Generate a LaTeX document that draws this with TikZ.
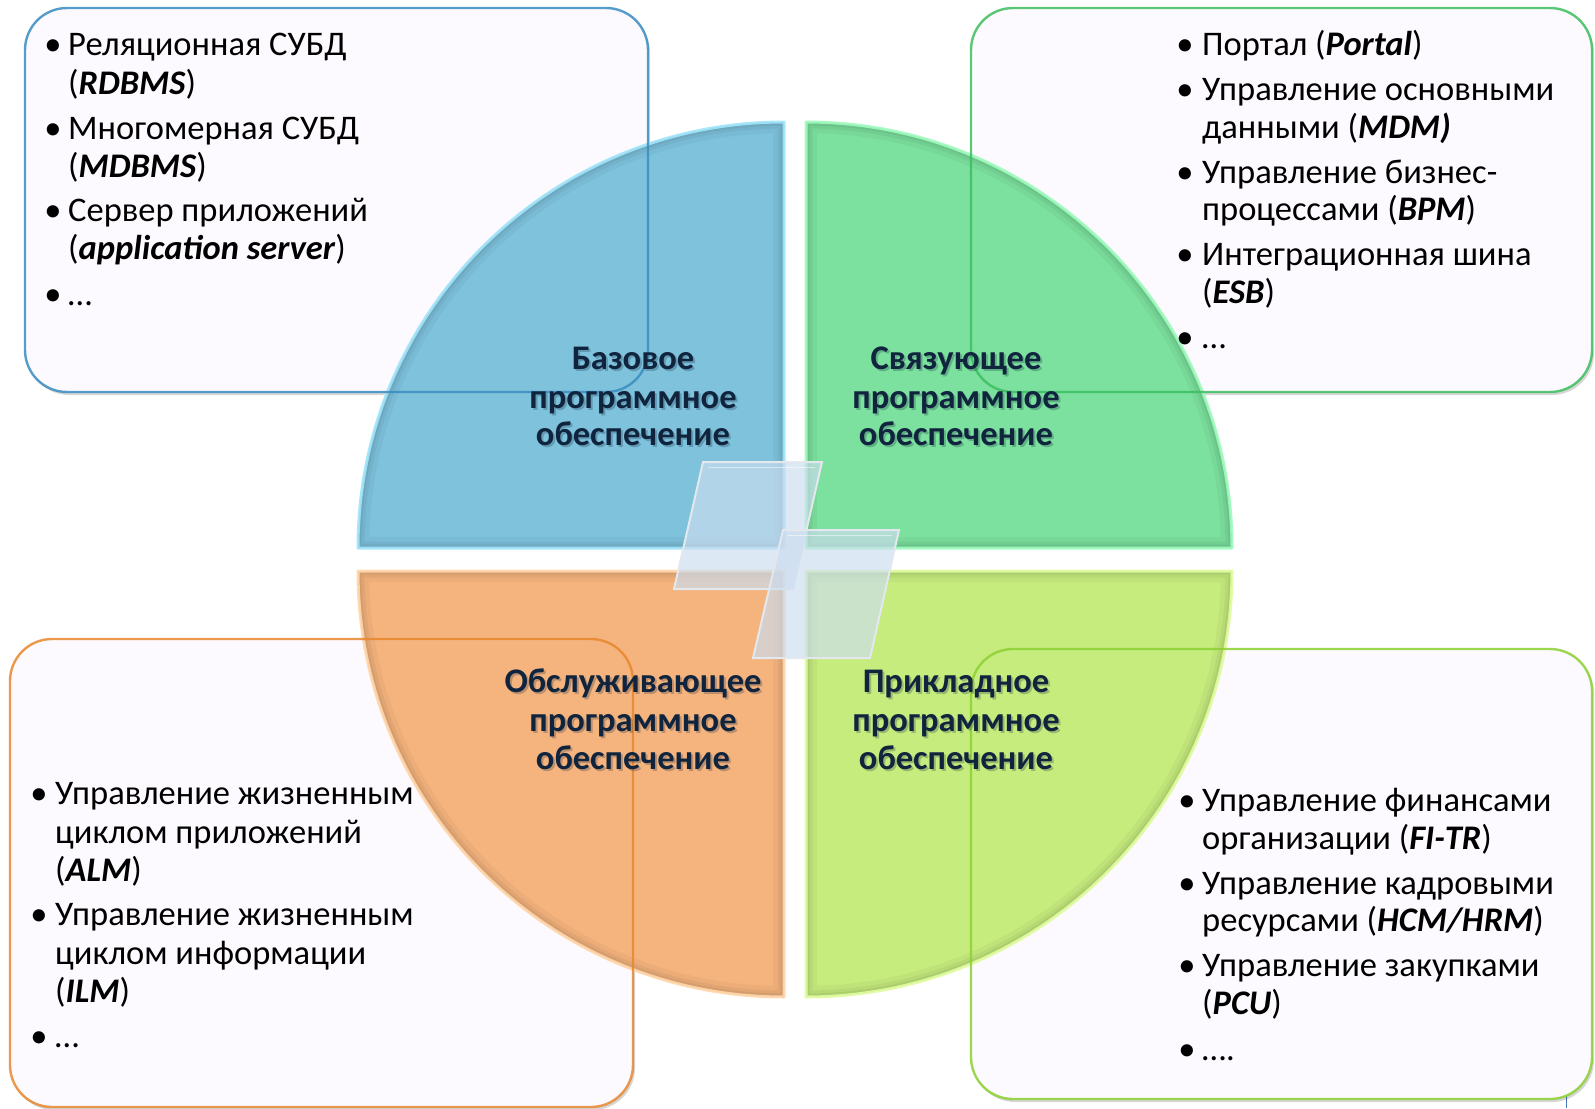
\documentclass[tikz,border=0pt]{standalone}
\usepackage{fontspec}
\setmainfont{Carlito}
\newcommand\termbi[1]{\textbf{\textit{#1}}}
\definecolor{boxfill}{RGB}{252,250,254}
\definecolor{qblue}{RGB}{126,194,220}
\definecolor{qgreen}{RGB}{124,224,158}
\definecolor{qorange}{RGB}{245,180,126}
\definecolor{qlime}{RGB}{198,236,126}
\definecolor{rblue}{RGB}{160,228,250}
\definecolor{rgreen}{RGB}{160,250,190}
\definecolor{rorange}{RGB}{255,214,170}
\definecolor{rlime}{RGB}{225,252,160}
\definecolor{bblue}{RGB}{58,140,192}
\definecolor{bgreen}{RGB}{60,190,95}
\definecolor{borange}{RGB}{232,135,45}
\definecolor{blime}{RGB}{140,208,50}
\definecolor{labc}{RGB}{16,36,62}
\definecolor{glass}{RGB}{204,221,239}
\definecolor{glassedge}{RGB}{226,232,238}
\begin{document}
\begin{tikzpicture}[x=1pt,y=-1pt,
  every node/.style={inner sep=0pt},
  txt/.style={anchor=base west, font=\fontsize{34.5}{38}\selectfont, text=black},
  bul/.style={anchor=base, font=\fontsize{34.5}{38}\selectfont, text=black},
  lab/.style={anchor=base, font=\fontsize{34.5}{38}\selectfont\bfseries, text=labc},
  labshade/.style={anchor=base, font=\fontsize{34.5}{38}\selectfont\bfseries, text=labc, opacity=0.25},
  infobox/.style={rounded corners=42, fill=boxfill},
  boxshade/.style={rounded corners=42, fill=black, opacity=0.16},
  boxline/.style={rounded corners=42, line width=2.4, draw=#1, opacity=0.85},
  glasspane/.style={fill=glass, fill opacity=0.68, draw=glassedge, line width=2}
]
\useasboundingbox (0,0) rectangle (1595,1108);

% small stray marker line at the lower right
\draw[line width=1.4, draw={rgb,255:red,215;green,224;blue,238}] (1566.5,1068) -- (1566.5,1096);
\draw[line width=1.6, draw={rgb,255:red,70;green,120;blue,190}] (1566.5,1096) -- (1566.5,1108);

% ---------- info boxes: shadows and fills ----------
\fill[boxshade] (27,11) rectangle (650,395);
\fill[boxshade] (973,11) rectangle (1594,395);
\fill[boxshade] (12,642) rectangle (635,1110);
\fill[boxshade] (973,652) rectangle (1594,1102);
\fill[infobox] (25,8) rectangle (648,392);
\fill[infobox] (971,8) rectangle (1592,392);
\fill[infobox] (10,639) rectangle (633,1107);
\fill[infobox] (971,649) rectangle (1592,1099);

% ---------- the four quadrants ----------
\def\qA{(784,548) -- ++(-426,0) arc[start angle=180, end angle=270, radius=426] -- cycle}
\def\qB{(806,548) -- ++(0,-426) arc[start angle=270, end angle=360, radius=426] -- cycle}
\def\qC{(784,571) -- ++(-426,0) arc[start angle=180, end angle=90, radius=426] -- cycle}
\def\qD{(806,571) -- ++(426,0) arc[start angle=0, end angle=90, radius=426] -- cycle}

\foreach \q/\c/\r in {\qA/qblue/rblue, \qB/qgreen/rgreen, \qC/qorange/rorange, \qD/qlime/rlime}{
  \fill[\c] \q;
  \begin{scope}
    \clip \q;
    \draw[black, opacity=0.035, line width=22, line join=round] \q;
    \draw[black, opacity=0.045, line width=13, line join=round] \q;
    \draw[black, opacity=0.05, line width=7, line join=round] \q;
  \end{scope}
  \draw[\r, line width=3, opacity=0.9, line join=round] \q;
}

% ---------- box outlines ----------
\draw[boxline=bblue] (25,8) rectangle (648,392);
\draw[boxline=bgreen] (971,8) rectangle (1592,392);
\draw[boxline=borange] (10,639) rectangle (633,1107);
\draw[boxline=blime] (971,649) rectangle (1592,1099);

% ---------- glass panes in the middle ----------
\filldraw[glasspane] (703,462) -- (822,462) -- (793,589) -- (674,589) -- cycle;
\filldraw[glasspane] (783,530) -- (899,530) -- (870,658) -- (753,658) -- cycle;
\draw[white, opacity=0.5, line width=1] (708,467) -- (815,467);
\draw[white, opacity=0.5, line width=1] (788,535) -- (892,535);

% ---------- quadrant titles ----------
\foreach \t/\yy [count=\k] in {Базовое/369, программное/408, обеспечение/445}{
  \node[labshade] (qAs\k) at (635,\yy+2.5) {\t};
  \node[lab] (qA\k) at (633,\yy) {\t};
}
\foreach \t/\yy [count=\k] in {Связующее/369, программное/408, обеспечение/445}{
  \node[labshade] (qBs\k) at (958,\yy+2.5) {\t};
  \node[lab] (qB\k) at (956,\yy) {\t};
}
\foreach \t/\yy [count=\k] in {Обслуживающее/692, программное/731, обеспечение/769}{
  \node[labshade] (qCs\k) at (635,\yy+2.5) {\t};
  \node[lab] (qC\k) at (633,\yy) {\t};
}
\foreach \t/\yy [count=\k] in {Прикладное/692, программное/731, обеспечение/769}{
  \node[labshade] (qDs\k) at (958,\yy+2.5) {\t};
  \node[lab] (qD\k) at (956,\yy) {\t};
}

% ---------- upper left list ----------
\node[bul] (a1b) at (53,56) {•};
\node[txt] (a1) at (68,56) {Реляционная СУБД};
\node[txt] (a1x) at (68,94.5) {(\termbi{RDBMS})};
\node[bul] (a2b) at (53,139) {•};
\node[txt] (a2) at (68,139) {Многомерная СУБД};
\node[txt] (a2x) at (68,177) {(\termbi{MDBMS})};
\node[bul] (a3b) at (53,221.5) {•};
\node[txt] (a3) at (68,221.5) {Сервер приложений};
\node[txt] (a3x) at (68,259.5) {(\termbi{application server})};
\node[bul] (a4b) at (53,305) {•};
\node[txt] (a4) at (68,305) {…};

% ---------- upper right list ----------
\node[bul] (b1b) at (1185,56) {•};
\node[txt] (b1) at (1202,56) {Портал (\termbi{Portal})};
\node[bul] (b2b) at (1185,100.5) {•};
\node[txt] (b2) at (1202,100.5) {Управление основными};
\node[txt] (b2x) at (1202,138.5) {данными (\termbi{MDM)}};
\node[bul] (b3b) at (1185,183) {•};
\node[txt] (b3) at (1202,183) {Управление бизнес-};
\node[txt] (b3x) at (1202,220.5) {процессами (\termbi{BPM})};
\node[bul] (b4b) at (1185,265.5) {•};
\node[txt] (b4) at (1202,265.5) {Интеграционная шина};
\node[txt] (b4x) at (1202,303) {(\termbi{ESB})};
\node[bul] (b5b) at (1185,348) {•};
\node[txt] (b5) at (1202,348) {…};

% ---------- lower left list ----------
\node[bul] (c1b) at (39,804.5) {•};
\node[txt] (c1) at (55,804.5) {Управление жизненным};
\node[txt] (c1x) at (55,843) {циклом приложений};
\node[txt] (c1y) at (55,881) {(\termbi{ALM})};
\node[bul] (c2b) at (39,925.5) {•};
\node[txt] (c2) at (55,925.5) {Управление жизненным};
\node[txt] (c2x) at (55,964) {циклом информации};
\node[txt] (c2y) at (55,1002) {(\termbi{ILM})};
\node[bul] (c3b) at (39,1047) {•};
\node[txt] (c3) at (55,1047) {…};

% ---------- lower right list ----------
\node[bul] (d1b) at (1187,811.5) {•};
\node[txt] (d1) at (1202,811.5) {Управление финансами};
\node[txt] (d1x) at (1202,849.5) {организации (\termbi{FI-TR})};
\node[bul] (d2b) at (1187,894) {•};
\node[txt] (d2) at (1202,894) {Управление кадровыми};
\node[txt] (d2x) at (1202,931) {ресурсами (\termbi{HCM/HRM})};
\node[bul] (d3b) at (1187,976.5) {•};
\node[txt] (d3) at (1202,976.5) {Управление закупками};
\node[txt] (d3x) at (1202,1014) {(\termbi{PCU})};
\node[bul] (d4b) at (1187,1060) {•};
\node[txt] (d4) at (1202,1060) {….};
\end{tikzpicture}
\end{document}
